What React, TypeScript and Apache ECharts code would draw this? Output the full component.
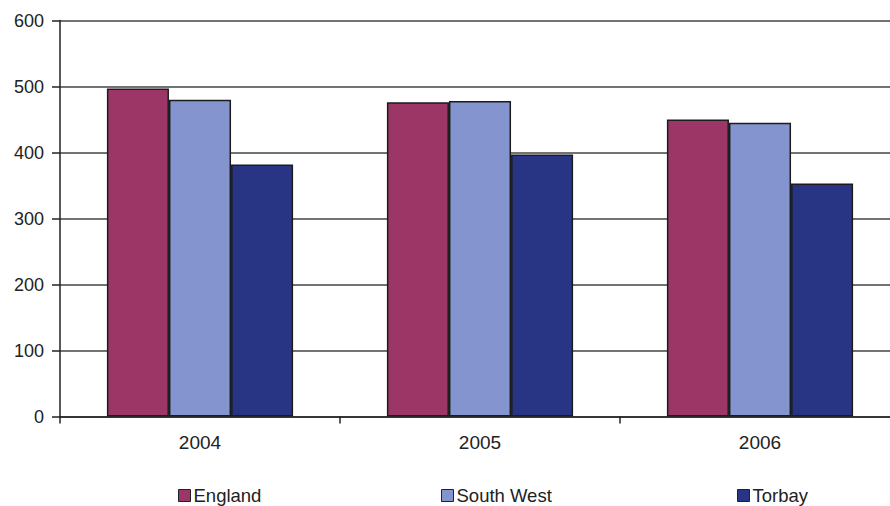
import React, { useEffect, useRef } from "react";
import * as echarts from "echarts";

// Years on the category axis
const years = ["2004", "2005", "2006"];

// Series values per year
const england = [497, 476, 450];
const southWest = [480, 478, 445];
const torbay = [382, 397, 353];

// Value-axis range
const yMin = 0;
const yMax = 600;
const yStep = 100;

const seriesNames = ["England", "South West", "Torbay"];
const seriesColors = ["#9B3667", "#8494CE", "#283484"];

const FONT = "'Liberation Sans', Arial, sans-serif";

export default function App() {
  const ref = useRef<HTMLDivElement>(null);

  useEffect(() => {
    if (!ref.current) return;
    const chart = echarts.init(ref.current, null, { renderer: "svg" });

    const values = [england, southWest, torbay];
    const legendLefts = [178, 441, 737];

    chart.setOption({
      animation: false,
      backgroundColor: "#ffffff",
      textStyle: { fontFamily: FONT },
      // the plot runs slightly past the visible right edge
      grid: { left: 60, top: 20.5, width: 840, bottom: 89.5, containLabel: false },
      legend: seriesNames.map((name, i) => ({
        data: [name],
        left: legendLefts[i],
        top: 486,
        padding: 0,
        itemWidth: 12,
        itemHeight: 12,
        itemGap: 0,
        icon: "rect",
        textStyle: { fontFamily: FONT, fontSize: 18.5, color: "#222", padding: [0, 0, 0, -2] },
        itemStyle: { borderColor: "#222", borderWidth: 1 },
      })),
      xAxis: {
        type: "category",
        data: years,
        axisLine: { lineStyle: { color: "#222", width: 1.5 } },
        axisTick: { show: true, length: 7, inside: false, lineStyle: { color: "#222", width: 1.5 } },
        axisLabel: { fontFamily: FONT, fontSize: 19, color: "#222", margin: 16 },
      },
      yAxis: {
        type: "value",
        min: yMin,
        max: yMax,
        interval: yStep,
        axisLine: { show: true, lineStyle: { color: "#222", width: 1.5 } },
        axisTick: { show: true, length: 8, lineStyle: { color: "#222", width: 1.5 } },
        axisLabel: { fontFamily: FONT, fontSize: 18, color: "#222", margin: 16 },
        splitLine: { show: true, lineStyle: { color: "#444", width: 1.6 } },
      },
      series: seriesNames.map((name, i) => ({
        name,
        type: "bar",
        data: values[i],
        barGap: "0%",
        barCategoryGap: "33.5%",
        itemStyle: { color: seriesColors[i], borderColor: "#1c1c1c", borderWidth: 1.5 },
      })),
    });

    return () => chart.dispose();
  }, []);

  return (
    <div
      style={{
        position: "absolute",
        left: 0,
        top: 0,
        width: 890,
        height: 506,
        overflow: "hidden",
        background: "#ffffff",
      }}
    >
      <div ref={ref} style={{ width: 900, height: 506 }} />
    </div>
  );
}
